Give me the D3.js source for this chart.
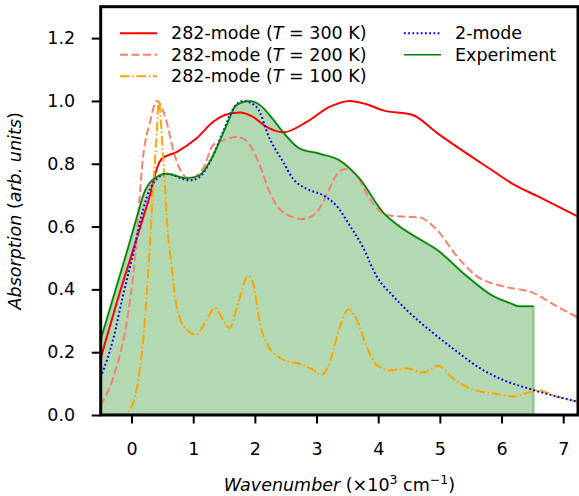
<!DOCTYPE html>
<html>
<head>
<meta charset="utf-8">
<script src="https://cdn.jsdelivr.net/npm/d3@7"></script>
<style>
  body { margin: 0; background: #fff; }
  svg text { font-family: "DejaVu Sans", sans-serif; fill: #000; }
</style>
</head>
<body>
<div id="chart"></div>
<script>
// data (x in 10^3 cm^-1)
var expX = [-0.5, -0.25, -0.06, 0.1, 0.19, 0.35, 0.57, 0.89, 1.1, 1.32, 1.54, 1.70, 1.92, 2.08, 2.3, 2.46, 2.73, 3.05, 3.38, 3.70, 4.08, 4.35, 4.67, 4.94, 5.43, 5.86, 6.13, 6.29, 6.52];
var expY = [0.24, 0.405, 0.53, 0.64, 0.70, 0.75, 0.768, 0.754, 0.763, 0.826, 0.922, 0.987, 1.0, 0.987, 0.94, 0.90, 0.848, 0.832, 0.81, 0.752, 0.645, 0.60, 0.56, 0.528, 0.443, 0.379, 0.357, 0.346, 0.346];

var redX = [-0.5, -0.19, 0.03, 0.2, 0.30, 0.41, 0.49, 0.73, 1.05, 1.32, 1.54, 1.76, 1.97, 2.19, 2.46, 2.84, 3.21, 3.54, 3.8, 4.08, 4.56, 4.94, 5.32, 5.81, 6.18, 6.6, 7.24];
var redY = [0.18, 0.39, 0.528, 0.636, 0.70, 0.784, 0.816, 0.837, 0.88, 0.933, 0.957, 0.963, 0.949, 0.917, 0.90, 0.933, 0.981, 1.0, 0.99, 0.97, 0.955, 0.90, 0.848, 0.784, 0.736, 0.695, 0.632];

var salX = [-0.5, -0.24, -0.08, 0.05, 0.19, 0.30, 0.41, 0.57, 0.67, 0.78, 0.94, 1.16, 1.32, 1.5, 1.70, 1.81, 1.92, 2.08, 2.24, 2.46, 2.78, 3.0, 3.16, 3.32, 3.48, 3.65, 3.86, 4.19, 4.67, 4.94, 5.27, 5.59, 6.02, 6.51, 6.89, 7.24];
var salY = [0.03, 0.155, 0.293, 0.485, 0.827, 0.933, 1.0, 0.933, 0.848, 0.784, 0.752, 0.784, 0.859, 0.875, 0.885, 0.88, 0.86, 0.795, 0.709, 0.645, 0.624, 0.645, 0.699, 0.763, 0.784, 0.763, 0.688, 0.635, 0.629, 0.592, 0.507, 0.443, 0.41, 0.389, 0.347, 0.31];

var bluX = [-0.5, -0.3, -0.14, 0.03, 0.19, 0.30, 0.41, 0.57, 0.94, 1.1, 1.27, 1.48, 1.65, 1.81, 2.03, 2.24, 2.46, 2.62, 2.84, 3.11, 3.32, 3.54, 3.75, 3.97, 4.24, 4.51, 4.89, 5.27, 5.65, 6.02, 6.51, 6.89, 7.24];
var bluY = [0.12, 0.24, 0.379, 0.517, 0.656, 0.72, 0.752, 0.768, 0.747, 0.757, 0.805, 0.90, 0.976, 1.0, 0.98, 0.88, 0.805, 0.752, 0.72, 0.699, 0.667, 0.603, 0.535, 0.443, 0.379, 0.325, 0.261, 0.203, 0.149, 0.112, 0.08, 0.059, 0.042];

var orgX = [-0.5, -0.15, 0.0, 0.11, 0.19, 0.27, 0.35, 0.41, 0.44, 0.51, 0.59, 0.65, 0.73, 0.89, 1.05, 1.22, 1.35, 1.48, 1.59, 1.73, 1.89, 1.97, 2.08, 2.19, 2.46, 2.78, 2.94, 3.08, 3.21, 3.38, 3.52, 3.65, 3.81, 3.97, 4.19, 4.46, 4.73, 4.97, 5.21, 5.48, 5.86, 6.24, 6.40, 6.59, 6.89, 7.24];
var orgY = [0.0, 0.0, 0.027, 0.112, 0.24, 0.453, 0.72, 0.90, 1.0, 0.827, 0.58, 0.475, 0.347, 0.272, 0.256, 0.304, 0.341, 0.304, 0.277, 0.357, 0.443, 0.421, 0.293, 0.229, 0.176, 0.16, 0.144, 0.128, 0.165, 0.283, 0.336, 0.304, 0.219, 0.16, 0.142, 0.149, 0.135, 0.157, 0.117, 0.085, 0.069, 0.059, 0.069, 0.078, 0.059, 0.042];

var xTicks = [0, 1, 2, 3, 4, 5, 6, 7];
var yTicks = [0.0, 0.2, 0.4, 0.6, 0.8, 1.0, 1.2];

var W = 579, H = 496;
var pL = 100.7, pR = 578, pT = 6.7, pB = 415;
var fs = "17.5px";

var svg = d3.select("#chart").append("svg")
    .attr("width", W)
    .attr("height", H);

var x = d3.scaleLinear().domain([-0.5, 7.24]).range([pL, pR]);
var y = d3.scaleLinear().domain([0, 1.3]).range([pB, pT]);

svg.append("clipPath").attr("id", "clip")
  .append("rect")
    .attr("x", pL).attr("y", pT)
    .attr("width", pR - pL).attr("height", pB - pT);

var plot = svg.append("g").attr("clip-path", "url(#clip)");

function pts(xs, ys) { return xs.map(function(v, i) { return [v, ys[i]]; }); }

var line = d3.line()
    .x(function(d) { return x(d[0]); })
    .y(function(d) { return y(d[1]); })
    .curve(d3.curveMonotoneX);

var area = d3.area()
    .x(function(d) { return x(d[0]); })
    .y0(y(0))
    .y1(function(d) { return y(d[1]); })
    .curve(d3.curveMonotoneX);

// experiment fill
plot.append("path")
    .datum(pts(expX, expY))
    .attr("d", area)
    .attr("fill", "green")
    .attr("fill-opacity", 0.3)
    .attr("stroke", "green")
    .attr("stroke-opacity", 0.3)
    .attr("stroke-width", 2.5);

var series = [
  {xs: redX, ys: redY, color: "red", dash: null, w: 2},
  {xs: salX, ys: salY, color: "salmon", dash: "8,3.5", w: 2},
  {xs: orgX, ys: orgY, color: "orange", dash: "9.6,2.6,1.6,2.6", w: 2},
  {xs: bluX, ys: bluY, color: "blue", dash: "1.8,2.4", w: 2},
  {xs: expX, ys: expY, color: "green", dash: null, w: 1.5}
];

series.forEach(function(s) {
  plot.append("path")
    .datum(pts(s.xs, s.ys))
    .attr("d", line)
    .attr("fill", "none")
    .attr("stroke", s.color)
    .attr("stroke-width", s.w)
    .attr("stroke-dasharray", s.dash);
});

// axes
var gx = svg.append("g")
    .attr("transform", "translate(0," + pB + ")")
    .call(d3.axisBottom(x).tickValues(xTicks).tickSize(8.5).tickPadding(19.5).tickFormat(d3.format("d")));
var gy = svg.append("g")
    .attr("transform", "translate(" + pL + ",0)")
    .call(d3.axisLeft(y).tickValues(yTicks).tickSize(9).tickPadding(16.5).tickFormat(d3.format(".1f")));

[gx, gy].forEach(function(g) {
  g.select(".domain").remove();
  g.selectAll(".tick line").attr("stroke", "#000").attr("stroke-width", 2);
  g.selectAll(".tick text").attr("font-size", fs).attr("font-family", "DejaVu Sans");
});

// frame
svg.append("rect")
    .attr("x", pL).attr("y", pT)
    .attr("width", pR - pL).attr("height", pB - pT)
    .attr("fill", "none")
    .attr("stroke", "#000")
    .attr("stroke-width", 3);

// axis labels
var yl = svg.append("text")
    .attr("transform", "translate(20.5," + ((pT + pB) / 2) + ") rotate(-90)")
    .attr("text-anchor", "middle")
    .attr("font-size", fs);
yl.append("tspan").attr("font-style", "italic").text("Absorption");
yl.append("tspan").text(" (");
yl.append("tspan").attr("font-style", "italic").text("arb. units");
yl.append("tspan").text(")");

var xl = svg.append("text")
    .attr("x", (pL + pR) / 2)
    .attr("y", 491)
    .attr("text-anchor", "middle")
    .attr("font-size", fs);
xl.append("tspan").attr("font-style", "italic").text("Wavenumber");
xl.append("tspan").text(" (×10");
xl.append("tspan").attr("font-size", "12.5px").attr("dy", "-7").text("3");
xl.append("tspan").attr("dy", "7").text(" cm");
xl.append("tspan").attr("font-size", "12.5px").attr("dy", "-7").text("−1");
xl.append("tspan").attr("dy", "7").text(")");

// legend
var legend = [
  {label: ["282-mode (", "T", " = 300 K)"], color: "red", dash: null, w: 2, lx: 120, ly: 33.3},
  {label: ["282-mode (", "T", " = 200 K)"], color: "salmon", dash: "8,3.5", w: 2, lx: 120, ly: 54.8},
  {label: ["282-mode (", "T", " = 100 K)"], color: "orange", dash: "9.6,2.6,1.6,2.6", w: 2, lx: 120, ly: 76.2},
  {label: ["2-mode"], color: "blue", dash: "1.8,2.4", w: 2, lx: 404, ly: 33.3},
  {label: ["Experiment"], color: "green", dash: null, w: 1.5, lx: 404, ly: 54.8}
];

legend.forEach(function(l) {
  svg.append("line")
    .attr("x1", l.lx).attr("x2", l.lx + 37)
    .attr("y1", l.ly).attr("y2", l.ly)
    .attr("stroke", l.color)
    .attr("stroke-width", l.w)
    .attr("stroke-dasharray", l.dash);
  var t = svg.append("text")
    .attr("x", l.lx + 51)
    .attr("y", l.ly + 6)
    .attr("font-size", fs);
  l.label.forEach(function(part, i) {
    t.append("tspan").attr("font-style", i === 1 ? "italic" : null).text(part);
  });
});
</script>
</body>
</html>
